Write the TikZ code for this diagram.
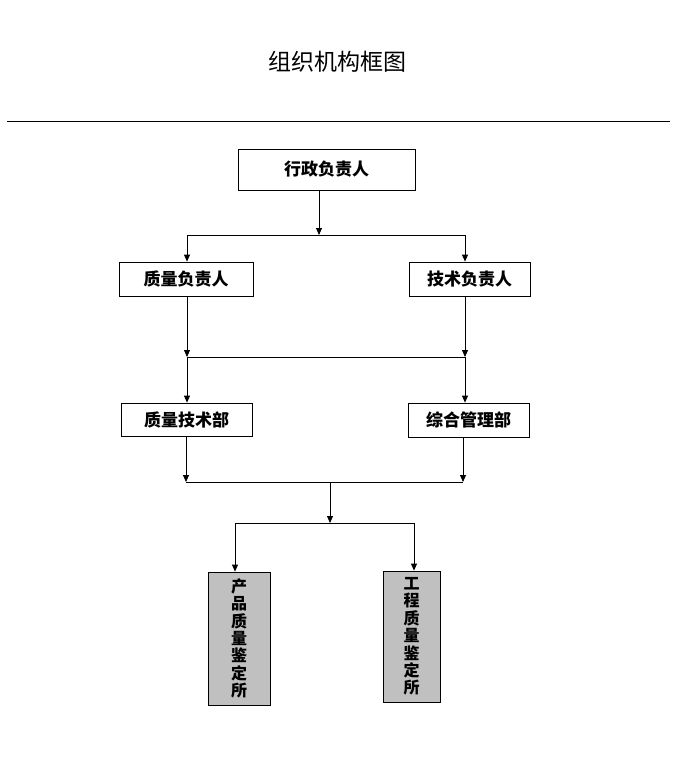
\documentclass[tikz,border=0pt]{standalone}
\usepackage{fontspec}
\newfontfamily\cjk{Noto Sans CJK SC}
\usetikzlibrary{arrows.meta}
\definecolor{grau}{HTML}{C0C0C0}
\tikzset{
  Box/.style={draw,line width=0.8pt,inner sep=0pt,font=\cjk\bfseries\fontsize{17}{20}\selectfont}, % Kaesten
  GreyBox/.style={Box,fill=grau,align=center,font=\cjk\bfseries\fontsize{16}{17.4}\selectfont}, % senkrechte Kaesten
  Arrow/.style={line width=0.8pt,-{Triangle[length=7pt,width=6pt]}}, % Pfeile
  Bar/.style={line width=0.8pt} % Querlinien
}

\begin{document}
\begin{tikzpicture}[x=1pt,y=-1pt]
\useasboundingbox (0,0) rectangle (676,778);

% Titel
\node[font=\cjk\fontsize{23}{26}\selectfont] (title) at (337,62) {组织机构框图};
\coordinate (rulel) at (7,122);
\coordinate (ruler) at (670,122);
\draw[line width=1pt] (rulel) -- (ruler);

% Kaesten
\node[Box,minimum width=177,minimum height=41] (admin) at (326.5,169.5) {行政负责人};
\node[Box,minimum width=134,minimum height=34] (qual) at (186,279) {质量负责人};
\node[Box,minimum width=121,minimum height=34] (tech) at (469.5,279) {技术负责人};
\node[Box,minimum width=131,minimum height=33] (qdept) at (186.5,419.5) {质量技术部};
\node[Box,minimum width=121,minimum height=34] (mgmt) at (468.5,420) {综合管理部};
\node[GreyBox,minimum width=62,minimum height=133] (prod) at (239,638.5) {产\\品\\质\\量\\鉴\\定\\所};
\node[GreyBox,minimum width=57,minimum height=131] (eng) at (411.5,636.5) {工\\程\\质\\量\\鉴\\定\\所};

% Querlinien
\coordinate (b1) at (319,235);
\coordinate (b1l) at (187,235);
\coordinate (b1r) at (465,235);
\coordinate (b2l) at (187,357);
\coordinate (b2r) at (465,357);
\coordinate (b3l) at (186,482);
\coordinate (b3r) at (463,482);
\coordinate (b3) at (330,482);
\coordinate (b4) at (330,523);
\coordinate (b4l) at (235,523);
\coordinate (b4r) at (414,523);

\draw[Bar] (b1l) -- (b1r);
\draw[Bar] (b2l) -- (b2r);
\draw[Bar] (b3l) -- (b3r);
\draw[Bar] (b4l) -- (b4r);

% Pfeile
\draw[Arrow] (admin.south -| b1) -- (b1);
\draw[Arrow] (b1l) -- (b1l |- qual.north);
\draw[Arrow] (b1r) -- (b1r |- tech.north);
\draw[Arrow] (qual.south -| b2l) -- (b2l);
\draw[Arrow] (tech.south -| b2r) -- (b2r);
\draw[Arrow] (b2l) -- (b2l |- qdept.north);
\draw[Arrow] (b2r) -- (b2r |- mgmt.north);
\draw[Arrow] (qdept.south -| b3l) -- (b3l);
\draw[Arrow] (mgmt.south -| b3r) -- (b3r);
\draw[Arrow] (b3) -- (b4);
\draw[Arrow] (b4l) -- (b4l |- prod.north);
\draw[Arrow] (b4r) -- (b4r |- eng.north);

\end{tikzpicture}
\end{document}
